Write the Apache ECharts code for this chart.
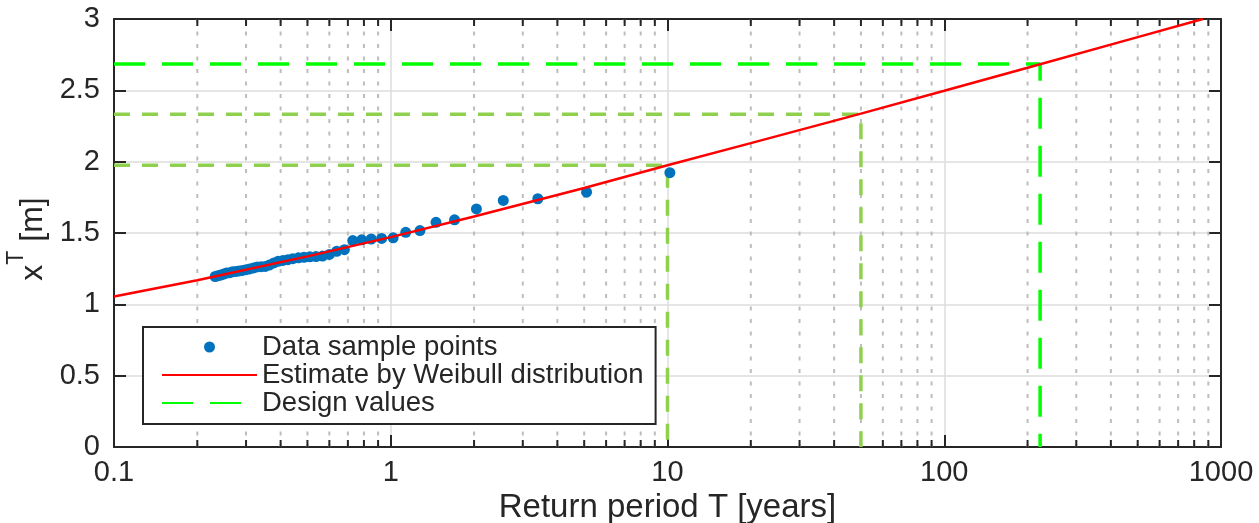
<!DOCTYPE html>
<html><head><meta charset="utf-8">
<script src="https://cdn.jsdelivr.net/npm/echarts@6/dist/echarts.min.js"></script>
<style>html,body{margin:0;padding:0;background:#fff}#c{width:1259px;height:523px}</style>
</head><body><div id="c"></div>
<script>
// ---- data ----
const sampleT = [10.2, 5.1, 3.4, 2.55, 2.04, 1.7, 1.457, 1.275, 1.133, 1.02,
  0.927, 0.85, 0.785, 0.729, 0.68, 0.638, 0.6, 0.567, 0.537, 0.51,
  0.486, 0.464, 0.443, 0.425, 0.408, 0.392, 0.378, 0.364, 0.352, 0.34,
  0.329, 0.319, 0.309, 0.3, 0.291, 0.283, 0.276, 0.268, 0.262, 0.255,
  0.249, 0.243, 0.237, 0.232];
const sampleX = [1.923, 1.786, 1.740, 1.728, 1.669, 1.592, 1.575, 1.517, 1.505, 1.466,
  1.462, 1.458, 1.452, 1.447, 1.383, 1.372, 1.350, 1.338, 1.335, 1.333,
  1.330, 1.326, 1.320, 1.313, 1.308, 1.302, 1.290, 1.275, 1.266, 1.264,
  1.262, 1.255, 1.248, 1.243, 1.238, 1.234, 1.231, 1.228, 1.222, 1.219,
  1.212, 1.205, 1.200, 1.195];
const fitT = [0.1, 0.2, 0.5, 1, 2, 5, 10, 20, 50, 100, 200, 500, 860];
const fitX = [1.055, 1.169, 1.336, 1.471, 1.616, 1.815, 1.975, 2.13, 2.337, 2.497, 2.658, 2.873, 3.0];
const designT = [10, 50, 222];
const designX = [1.975, 2.333, 2.685];
const minorTicks = [0.2, 0.3, 0.4, 0.5, 0.6, 0.7, 0.8, 0.9,
  2, 3, 4, 5, 6, 7, 8, 9,
  20, 30, 40, 50, 60, 70, 80, 90,
  200, 300, 400, 500, 600, 700, 800, 900];
const xRange = [0.1, 1000];
const yRange = [0, 3];
const yStep = 0.5;
const legendNames = ['Data sample points', 'Estimate by Weibull distribution', 'Design values'];
const xTitle = 'Return period T [years]';

const FONT = '"Liberation Sans", Arial, Helvetica, sans-serif';
const INK = '#262626';

const chart = echarts.init(document.getElementById('c'), null, {renderer: 'canvas'});

function designSeries(i, name, color, dash) {
  return {
    type: 'line', name: name, xAxisIndex: 0, yAxisIndex: 0,
    data: [[xRange[0], designX[i]], [designT[i], designX[i]], [designT[i], yRange[0]]],
    symbol: 'none', showSymbol: false, z: 3, silent: true,
    lineStyle: {color: color, width: 3.5, type: dash},
    itemStyle: {color: color}
  };
}

const hiddenSym = {color: 'rgba(0,0,0,0)', borderWidth: 0, opacity: 0};

const option = {
  animation: false,
  backgroundColor: '#fff',
  grid: {left: 114, right: 38, top: 19, bottom: 76, containLabel: false, outerBoundsMode: 'none'},
  legend: {
    data: [
      {name: legendNames[0]},
      {name: legendNames[1], itemStyle: hiddenSym},
      {name: legendNames[2], itemStyle: hiddenSym}
    ],
    orient: 'vertical', left: 143, top: 327,
    itemWidth: 95, itemHeight: 11, itemGap: 0,
    padding: [6, 12, 7, 18],
    borderColor: INK, borderWidth: 2, borderRadius: 0,
    backgroundColor: '#fff',
    selectedMode: false,
    textStyle: {fontSize: 27.5, lineHeight: 27, color: INK, fontFamily: FONT}
  },
  xAxis: [{
    type: 'log', logBase: 10, min: xRange[0], max: xRange[1], position: 'bottom',
    axisLine: {show: true, onZero: false, lineStyle: {color: INK, width: 2}},
    axisTick: {show: true, inside: true, length: 12, lineStyle: {color: INK, width: 2}},
    axisLabel: {show: true, margin: 11, fontSize: 29, color: INK, fontFamily: FONT,
      formatter: v => String(+(+v).toPrecision(6))},
    splitLine: {show: true, lineStyle: {color: '#dcdcdc', width: 1.5}},
    name: xTitle, nameLocation: 'middle', nameGap: 35,
    nameTextStyle: {fontSize: 33, color: INK, fontFamily: FONT}
  }, {
    type: 'log', logBase: 10, min: xRange[0], max: xRange[1], position: 'top',
    axisLine: {show: true, onZero: false, lineStyle: {color: INK, width: 2}},
    axisTick: {show: true, inside: true, length: 12, lineStyle: {color: INK, width: 2}},
    axisLabel: {show: false}, splitLine: {show: false}
  }],
  yAxis: [{
    type: 'value', min: yRange[0], max: yRange[1], interval: yStep, position: 'left',
    axisLine: {show: true, onZero: false, lineStyle: {color: INK, width: 2}},
    axisTick: {show: true, inside: true, length: 12, lineStyle: {color: INK, width: 2}},
    axisLabel: {show: true, margin: 14, fontSize: 29, color: INK, fontFamily: FONT},
    splitLine: {show: true, lineStyle: {color: '#dcdcdc', width: 1.5}},
    name: '{a|x}{b|T}{a| [m]}', nameLocation: 'middle', nameGap: 60, nameRotate: 90,
    nameTextStyle: {
      color: INK, fontFamily: FONT, padding: [0, 12, 0, 0],
      rich: {
        a: {fontSize: 32, lineHeight: 44, verticalAlign: 'bottom', color: INK, fontFamily: FONT},
        b: {fontSize: 23, verticalAlign: 'top', color: INK, fontFamily: FONT}
      }
    }
  }, {
    type: 'value', min: yRange[0], max: yRange[1], interval: yStep, position: 'right',
    axisLine: {show: true, onZero: false, lineStyle: {color: INK, width: 2}},
    axisTick: {show: true, inside: true, length: 12, lineStyle: {color: INK, width: 2}},
    axisLabel: {show: false}, splitLine: {show: false}
  }],
  series: [
    {
      type: 'custom', name: 'minor', xAxisIndex: 0, yAxisIndex: 0, z: 1, silent: true,
      data: minorTicks.map(v => [v]),
      renderItem: function (params, api) {
        const cs = params.coordSys;
        const x = api.coord([api.value(0), 1])[0];
        const yb = cs.y + cs.height, yt = cs.y;
        return {type: 'group', children: [
          {type: 'line', shape: {x1: x, y1: yt, x2: x, y2: yb},
            style: {stroke: '#bdbdbd', lineWidth: 2, lineDash: [4, 8.5]}},
          {type: 'line', shape: {x1: x, y1: yb, x2: x, y2: yb - 7},
            style: {stroke: INK, lineWidth: 2}},
          {type: 'line', shape: {x1: x, y1: yt, x2: x, y2: yt + 7},
            style: {stroke: INK, lineWidth: 2}}
        ]};
      }
    },
    designSeries(0, 'design10', '#8fd14f', [16, 12]),
    designSeries(1, 'design50', '#8fd14f', [16, 12]),
    designSeries(2, 'Design values', '#00ff00', [31, 17]),
    {
      type: 'scatter', name: 'Data sample points', xAxisIndex: 0, yAxisIndex: 0,
      data: sampleT.map((t, i) => [t, sampleX[i]]),
      symbol: 'circle', symbolSize: 11, z: 4, silent: true,
      itemStyle: {color: '#0072bd', opacity: 1}
    },
    {
      type: 'line', name: 'Estimate by Weibull distribution', xAxisIndex: 0, yAxisIndex: 0,
      data: fitT.map((t, i) => [t, fitX[i]]),
      symbol: 'none', showSymbol: false, z: 5, silent: true,
      lineStyle: {color: '#ff0000', width: 2.5},
      itemStyle: {color: '#ff0000'}
    }
  ]
};
chart.setOption(option);
</script>
</body></html>
